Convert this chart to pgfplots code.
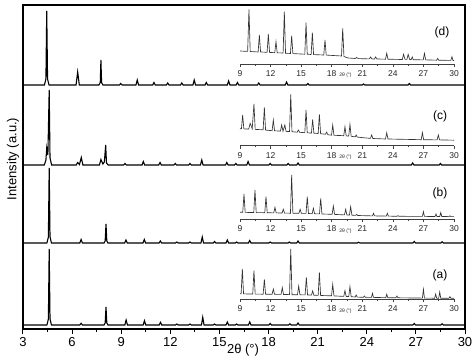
\documentclass[border=0pt]{standalone}
\usepackage{pgfplots}
\pgfplotsset{compat=1.18}
\usepackage{fontspec}
\setmainfont{Liberation Sans}
\newcommand{\fs}[1]{\fontsize{#1}{#1}\selectfont}
\pgfplotsset{
  inset/.style={
    anchor=south west, scale only axis, width=214pt, height=56pt,
    xmin=9, xmax=30, ymin=0, ymax=56,
    axis x line=bottom, axis y line=none,
    x axis line style={-, line width=0.6pt, black!75},
    xtick={9,12,...,30}, minor x tick num=1, tick align=outside,
    major tick length=3pt, minor tick length=1.6pt,
    every tick/.style={black!75, line width=0.5pt},
    ticklabel style={font=\fs{8.5}, text=black!85},
    /pgf/number format/assume math mode=true,
    clip=false,
  },
  ipat/.style={black!80, line width=0.65pt},
}
\begin{document}
\begin{tikzpicture}
\begin{axis}[
  at={(23pt,32pt)}, anchor=south west,
  scale only axis, width=442pt, height=324pt,
  xmin=3, xmax=30, ymin=0, ymax=324,
  xtick={3,6,...,30}, minor x tick num=1,
  xtick pos=bottom, tick align=outside,
  major tick length=5pt, minor tick length=3pt,
  ytick=\empty,
  axis line style={line width=1.2pt},
  every tick/.style={black, line width=1pt},
  ticklabel style={font=\fs{13}},
  /pgf/number format/assume math mode=true,
  clip=false,
]
% (d)
\addplot[black, line width=1.1pt] table[y expr=\thisrowno{1}+244] {
3 0
4.31 0
4.40 6
4.45 74
4.50 6
4.59 0
6.24 0
6.34 13
6.44 0
7.64 0
7.72 2.5
7.76 25
7.80 2.5
7.88 0
8.89 0
8.97 1.5
9.05 0
9.9 0
9.98 5
10.06 0
10.92 0
11.0 2.5
11.08 0
11.76 0
11.84 2
11.92 0
12.62 0
12.7 2
12.78 0
13.38 0
13.46 5
13.54 0
14.12 0
14.2 2.5
14.28 0
15.48 0
15.56 4
15.64 0
16.02 0
16.1 2.5
16.18 0
17.32 0
17.4 2
17.48 0
19.02 0
19.1 3
19.18 0
20.32 0
20.4 1.5
20.48 0
23.72 0
23.8 1
23.88 0
26.52 0
26.6 1.5
26.68 0
30 0
};
% (c)
\addplot[black, line width=1.1pt] table[y expr=\thisrowno{1}+164] {
3 0
4.3 0
4.40 5
4.45 17
4.52 10
4.6 75
4.65 7
4.75 0
6.25 0
6.34 2.5
6.45 0.5
6.56 7.5
6.66 0
7.67 0
7.76 5.5
7.88 1
7.97 3
8.05 20
8.10 2
8.2 0
9.15 0
9.23 1.5
9.31 0
10.27 0
10.35 3.5
10.43 0
11.29 0
11.37 2.5
11.45 0
12.22 0
12.3 1.5
12.38 0
13.12 0
13.2 1.5
13.28 0
13.84 0
13.92 5
14.0 0
15.37 0
15.45 2.5
15.53 0
15.92 0
16.0 1.5
16.08 0
16.67 0
16.75 3.5
16.83 0
18.02 0
18.1 1.5
18.18 0
19.12 0
19.2 1.5
19.28 0
19.72 0
19.8 2
19.88 0
26.72 0
26.8 2
26.88 0
28.42 0
28.5 1.5
28.58 0
30 0
};
% (b)
\addplot[black, line width=1.1pt] table[y expr=\thisrowno{1}+86] {
3 0
4.46 0
4.55 6
4.6 75
4.65 6
4.74 0
6.47 0
6.55 3.5
6.63 0
7.95 0
8.02 2
8.07 19
8.12 2
8.19 0
9.21 0
9.29 3
9.37 0
10.33 0
10.41 3.5
10.49 0
11.31 0
11.39 2
11.47 0
12.32 0
12.4 1
12.48 0
13.12 0
13.2 1
13.28 0
13.87 0
13.95 6
14.03 0
14.62 0
14.7 1.5
14.78 0
15.4 0
15.48 3
15.56 0
15.97 0
16.05 1
16.13 0
16.77 0
16.85 2.5
16.93 0
18.02 0
18.1 1
18.18 0
19.19 0
19.27 1
19.35 0
19.72 0
19.8 2
19.88 0
23.42 0
23.5 0.8
23.58 0
26.82 0
26.9 1.5
26.98 0
28.52 0
28.6 1.2
28.68 0
30 0
};
% (a)
\addplot[black, line width=1.1pt] table[y expr=\thisrowno{1}+4] {
3 0
4.46 0
4.55 6
4.6 76
4.65 6
4.74 0
6.47 0
6.55 1.7
6.63 0
7.95 0
8.02 2
8.07 18
8.12 2
8.19 0
9.22 0
9.3 5
9.38 0
10.34 0
10.42 4.3
10.5 0
11.32 0
11.4 2.7
11.48 0
12.32 0
12.4 1
12.48 0
13.12 0
13.2 1
13.28 0
13.9 0
13.98 7.7
14.06 0
14.62 0
14.7 1
14.78 0
15.4 0
15.48 3
15.56 0
15.97 0
16.05 1
16.13 0
16.77 0
16.85 3
16.93 0
18.02 0
18.1 1.5
18.18 0
19.22 0
19.3 1.2
19.38 0
19.72 0
19.8 2
19.88 0
26.82 0
26.9 1.5
26.98 0
28.52 0
28.6 1.2
28.68 0
30 0
};
\end{axis}

% inset (d)
\begin{axis}[inset, at={(240pt,297pt)}]
\addplot[ipat] coordinates {
(9.0,13) (9.75,12.6) (9.88,54.7) (10.0,12.5) (10.78,12) (10.9,29) (11.02,12)
(11.66,11.7) (11.78,30) (11.9,11.6) (12.41,11.3) (12.53,22.3) (12.65,11.2)
(13.23,11) (13.35,52.3) (13.47,10.8) (13.95,10.5) (14.07,28.3) (14.19,10.4)
(15.36,9.8) (15.48,41.3) (15.6,9.8) (15.98,9.5) (16.1,31.3) (16.22,9.4)
(17.22,9) (17.34,24) (17.46,8.9) (18.96,8) (19.08,35.7) (19.2,7.5) (19.6,6)
(20.3,5.5) (20.45,6.5) (20.6,5.4) (21.7,5.1) (21.8,7) (21.95,5.1) (22.2,5)
(22.3,7) (22.45,5) (23.28,4.8) (23.4,10.7) (23.52,4.8) (24.93,4.5) (25.05,9.7)
(25.2,4.6) (25.38,4.6) (25.5,9.7) (25.65,4.5) (25.8,4.4) (25.9,7) (26.0,4.3)
(26.98,4.1) (27.1,10.7) (27.22,4.1) (28.3,3.8) (28.4,5.5) (28.5,3.8)
(29.68,3.6) (29.8,7.3) (29.9,3.5) (30,3.5)
};
\end{axis}
% inset (c)
\begin{axis}[inset, at={(240pt,215.3pt)}]
\addplot[ipat] coordinates {
(9.0,17) (9.14,16.9) (9.26,30.7) (9.38,16.8) (9.85,16.6) (10.0,22.3) (10.2,17)
(10.37,41.7) (10.49,16.3) (11.27,15.9) (11.39,38.3) (11.51,15.6) (12.15,15)
(12.27,25.7) (12.39,14.9) (12.97,14.6) (13.09,20.7) (13.22,14.5) (13.4,20.7)
(13.52,14.3) (13.86,14.1) (13.98,51.3) (14.1,14) (14.61,13.5) (14.73,15.7)
(14.85,13.4) (15.36,13) (15.48,35.7) (15.6,12.9) (16.01,12.6) (16.13,26.3)
(16.25,12.5) (16.67,12.2) (16.79,31.3) (16.91,12) (17.4,11.5) (17.5,13.5)
(17.62,11) (17.98,10.5) (18.1,20.7) (18.22,10.4) (19.18,10) (19.3,19)
(19.42,9.8) (19.67,9.6) (19.79,21.3) (19.91,9.4) (20.3,8.8) (20.4,10.7)
(20.5,8.6) (21.8,7.3) (21.92,10.7) (22.04,7.2) (23.28,6.7) (23.4,13)
(23.52,6.7) (26.78,6) (26.9,13) (27.02,6) (28.34,5.8) (28.46,10.7)
(28.58,5.8) (30,5.5)
};
\end{axis}
% inset (b)
\begin{axis}[inset, at={(240pt,141.7pt)}]
\addplot[ipat] coordinates {
(9.0,7) (9.27,7) (9.39,25.3) (9.51,6.9) (10.35,6.8) (10.47,29.3) (10.59,6.7)
(11.43,6.6) (11.55,22.7) (11.67,6.6) (12.31,6.4) (12.43,12) (12.55,6.4)
(13.13,6.3) (13.25,10) (13.37,6.2) (13.95,6.1) (14.07,44.3) (14.19,6.1)
(14.78,6) (14.9,10) (15.02,6) (15.48,5.9) (15.6,22.7) (15.72,5.8)
(16.08,5.6) (16.2,11) (16.32,5.5) (16.8,5.4) (16.92,21) (17.04,5.3)
(18.04,5) (18.16,13.3) (18.28,4.9) (19.25,4.4) (19.37,10) (19.49,4.3)
(19.74,4.2) (19.86,12.7) (19.98,4.1) (20.35,3.9) (20.45,5) (20.55,3.8)
(22.0,3.4) (22.1,6) (22.2,3.4) (23.36,3.2) (23.46,6) (23.56,3.2)
(24.4,3) (24.5,3.6) (24.6,3) (26.9,2.9) (27.0,7.7) (27.1,2.9)
(28.13,2.8) (28.23,5.3) (28.33,2.8) (28.6,2.8) (28.7,6.7) (28.8,2.8)
(29.5,2.7) (29.6,3.5) (29.7,2.7) (30,2.7)
};
\end{axis}
% inset (a)
\begin{axis}[inset, at={(240pt,61.7pt)}]
\addplot[ipat] coordinates {
(9.0,5.5) (9.11,5.5) (9.23,30.3) (9.35,5.4) (10.25,5.3) (10.37,28.7) (10.49,5.2)
(11.27,5.1) (11.39,20) (11.51,5) (12.15,5) (12.27,10.3) (12.39,5)
(13.03,4.9) (13.15,11.7) (13.27,4.8) (13.86,4.7) (13.98,50.3) (14.1,4.6)
(14.64,4.5) (14.76,13.3) (14.88,4.5) (15.39,4.4) (15.51,22) (15.63,4.3)
(16.01,4.2) (16.13,8.3) (16.25,4.1) (16.67,3.9) (16.79,27) (16.91,3.8)
(17.98,3.5) (18.1,15) (18.22,3.4) (19.18,2.9) (19.3,8.7) (19.42,2.8)
(19.67,2.7) (19.79,12.7) (19.91,2.6) (20.3,2.3) (20.4,4.3) (20.5,2.2)
(21.1,2) (21.2,3.3) (21.3,2) (21.9,1.9) (22.0,6) (22.1,1.9)
(23.3,1.6) (23.4,5) (23.5,1.6) (24.3,1.5) (24.4,3.3) (24.5,1.5)
(26.9,1.2) (27.0,10) (27.1,1.2) (28.1,1.1) (28.2,5.3) (28.3,1.1)
(28.5,1.1) (28.6,7.3) (28.7,1.1) (29.5,1) (29.6,2.7) (29.7,1) (30,1)
};
\end{axis}

% labels
\node[font=\fs{13}, rotate=90] at (13pt,202pt) {Intensity (a.u.)};
\node[font=\fs{13}] at (243pt,11pt) {2θ (°)};
\node[font=\fs{12}] at (442pt,328.5pt) {(d)};
\node[font=\fs{12}] at (440pt,245pt) {(c)};
\node[font=\fs{12}] at (440pt,168pt) {(b)};
\node[font=\fs{12}] at (440pt,86pt) {(a)};
\foreach \yy in {285.5,203.8,130.2,50.2}
  \node[font=\fs{5}, text=black!85] at (345.5pt,\yy pt) {2θ (°)};
\pgfresetboundingbox
\useasboundingbox (0,0) rectangle (474pt,361pt);
\end{tikzpicture}
\end{document}
